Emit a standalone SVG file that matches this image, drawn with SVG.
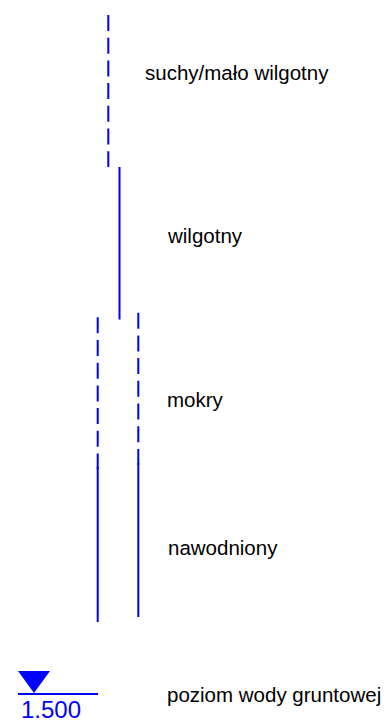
<svg xmlns="http://www.w3.org/2000/svg" width="388" height="722" viewBox="0 0 388 722">
<style>
.ln{stroke:#0000FF;stroke-width:2;fill:none}
.dash{stroke-dasharray:16 6.7}
.lbl{font-family:"Liberation Sans",Arial,sans-serif;font-size:20.5px;fill:#000}
.lvl{font-family:"Liberation Sans",Arial,sans-serif;font-size:24px;fill:#0000FF}
</style>
<rect width="388" height="722" fill="#fff"/>
<g id="connectors">
<line class="ln dash" x1="108.3" y1="15" x2="108.3" y2="167"/>
<line class="ln" x1="119.5" y1="167" x2="119.5" y2="319.5"/>
<line class="ln dash" x1="97.7" y1="317.3" x2="97.7" y2="469.3"/>
<line class="ln" x1="97.7" y1="467" x2="97.7" y2="622"/>
<line class="ln dash" x1="138.3" y1="312.7" x2="138.3" y2="464.7"/>
<line class="ln" x1="138.3" y1="463" x2="138.3" y2="617"/>
</g>
<g id="suchy"><text class="lbl" x="145" y="80">suchy/mało wilgotny</text></g>
<g id="wilgotny"><text class="lbl" x="168" y="243">wilgotny</text></g>
<g id="mokry"><text class="lbl" x="167" y="407">mokry</text></g>
<g id="nawodniony"><text class="lbl" x="168" y="555">nawodniony</text></g>
<g id="poziom">
<polygon points="18,671 50,671 34,693" fill="#0000FF"/>
<line class="ln" x1="18" y1="694" x2="98" y2="694"/>
<text class="lvl" x="21" y="717.5">1.500</text>
<text class="lbl" x="167" y="702">poziom wody gruntowej</text>
</g>
</svg>
